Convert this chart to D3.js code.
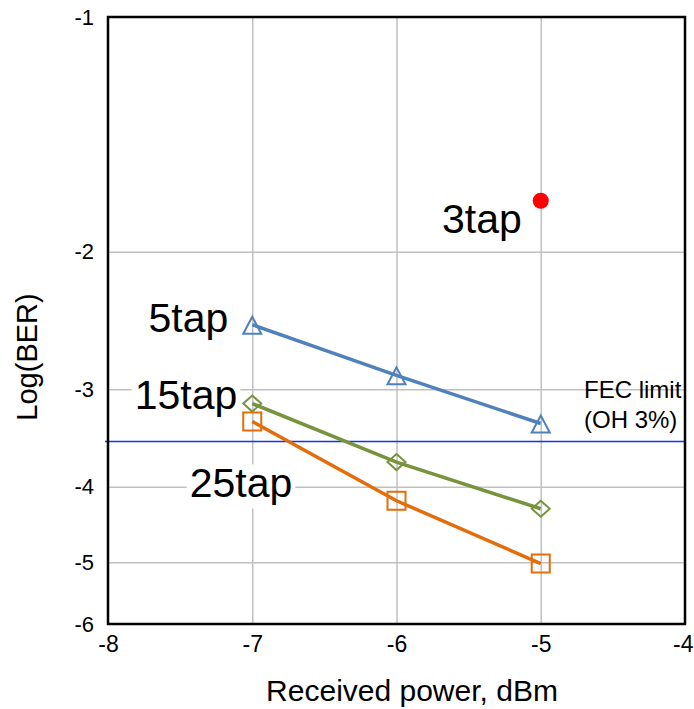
<!DOCTYPE html>
<html lang="en">
<head>
<meta charset="UTF-8">
<title>Log(BER) vs received power</title>
<script src="https://cdn.jsdelivr.net/npm/d3@7"></script>
<style>
  body { margin: 0; background: #fff; }
  text { font-family: Arial, "Liberation Sans", sans-serif; fill: #000; }
</style>
</head>
<body>
<div id="chart"></div>
<script>
  // received power (dBm) and measured Log(BER) per tap count
  var power = [-7, -6, -5];
  var ber5tap = [-2.48, -2.88, -3.32];
  var ber15tap = [-3.13, -3.72, -4.27];
  var ber25tap = [-3.3, -4.17, -5.02];
  var power3tap = [-5];
  var ber3tap = [-1.72];
  var fecLimit = -3.5;
  var xTicks = [-8, -7, -6, -5, -4];
  var yTicks = [-1, -2, -3, -4, -5, -6];

  var margin = { top: 17, right: 9, bottom: 85, left: 108 },
    width = 694 - margin.left - margin.right,
    height = 709 - margin.top - margin.bottom;

  var x = d3.scaleLinear().domain([-8, -4]).range([0, width]);
  // the axis is logarithmic in -Log(BER)
  var y = d3.scaleLog().domain([1, 6]).range([0, height]);
  var yPos = function (v) { return y(-v); };

  var svg = d3.select("#chart")
    .append("svg")
    .attr("width", 694)
    .attr("height", 709)
    .append("g")
    .attr("transform", "translate(" + margin.left + "," + margin.top + ")");

  // gridlines
  var gx = svg.append("g")
    .call(d3.axisBottom(x).tickValues(xTicks.slice(1, -1)).tickSize(height).tickFormat(""));
  var gy = svg.append("g")
    .call(d3.axisRight(y).tickValues(yTicks.slice(1, -1).map(function (v) { return -v; })).tickSize(width).tickFormat(""));
  [gx, gy].forEach(function (g) {
    g.select(".domain").remove();
    g.selectAll("line").attr("stroke", "#c0c0c0").attr("stroke-width", 1.5);
  });

  // tick labels
  var ay = svg.append("g")
    .call(d3.axisLeft(y).tickValues(yTicks.map(function (v) { return -v; }))
      .tickSize(0).tickPadding(14).tickFormat(function (d) { return "-" + d; }));
  var ax = svg.append("g")
    .attr("transform", "translate(0," + height + ")")
    .call(d3.axisBottom(x).tickValues(xTicks).tickSize(0).tickPadding(12)
      .tickFormat(function (d) { return d < 0 ? "-" + (-d) : d; }));
  [ax, ay].forEach(function (g) {
    g.select(".domain").remove();
    g.selectAll("text").attr("fill", "#000").style("font-family", "Arial, 'Liberation Sans', sans-serif");
  });
  ay.selectAll("text").style("font-size", "22px");
  ax.selectAll("text").style("font-size", "23px");
  // keep the last label inside the page
  ax.selectAll("text").filter(function (d) { return d === xTicks[xTicks.length - 1]; })
    .attr("text-anchor", "end").attr("x", 8);

  // FEC limit
  var fecY = yPos(fecLimit);
  svg.append("line")
    .attr("x1", -3).attr("x2", width)
    .attr("y1", fecY).attr("y2", fecY)
    .attr("stroke", "#0a36ee").attr("stroke-width", 1.5);
  svg.append("text")
    .attr("x", 476).attr("y", fecY - 43)
    .style("font-size", "24px")
    .text("FEC limit");
  svg.append("text")
    .attr("x", 476).attr("y", fecY - 13)
    .style("font-size", "24px")
    .text("(OH 3%)");

  var shapes = {
    triangle: "M0,-8L9,9L-9,9Z",
    diamond: "M0,-8L9,0L0,8L-9,0Z",
    square: "M-9,-9L9,-9L9,9L-9,9Z"
  };

  var series = [
    { name: "5tap", values: ber5tap, color: "#4f81bd", shape: "triangle" },
    { name: "15tap", values: ber15tap, color: "#77933c", shape: "diamond" },
    { name: "25tap", values: ber25tap, color: "#e46c0a", shape: "square" }
  ];

  var line = d3.line()
    .x(function (d, i) { return x(power[i]); })
    .y(function (d) { return yPos(d); });

  series.forEach(function (s) {
    svg.append("path")
      .attr("d", line(s.values))
      .attr("fill", "none")
      .attr("stroke", s.color)
      .attr("stroke-width", 3.5);
    svg.selectAll(".m-" + s.name)
      .data(s.values)
      .enter()
      .append("path")
      .attr("class", "m-" + s.name)
      .attr("transform", function (d, i) { return "translate(" + x(power[i]) + "," + yPos(d) + ")"; })
      .attr("d", shapes[s.shape])
      .attr("fill", "none")
      .attr("stroke", s.color)
      .attr("stroke-width", 2);
  });

  svg.selectAll(".p3")
    .data(ber3tap)
    .enter()
    .append("circle")
    .attr("class", "p3")
    .attr("cx", function (d, i) { return x(power3tap[i]); })
    .attr("cy", function (d) { return yPos(d); })
    .attr("r", 8)
    .attr("fill", "#ff0000");

  // series labels, offset in pixels from a point of the series, on a white box
  function addLabel(txt, px, py, dx, dy) {
    var g = svg.append("g");
    var t = g.append("text")
      .attr("x", px + dx).attr("y", py + dy)
      .attr("text-anchor", "end")
      .style("font-size", "41px")
      .text(txt);
    var b = t.node().getBBox();
    g.insert("rect", "text")
      .attr("x", b.x - 3).attr("y", b.y + 4)
      .attr("width", b.width + 6).attr("height", b.height - 2)
      .attr("fill", "#fff");
  }
  addLabel("3tap", x(power3tap[0]), yPos(ber3tap[0]), -19, 32);
  addLabel("5tap", x(power[0]), yPos(ber5tap[0]), -24, 7);
  addLabel("15tap", x(power[0]), yPos(ber15tap[0]), -15, 5);
  addLabel("25tap", x(power[0]), yPos(ber25tap[0]), 40, 76);

  // plot border
  svg.append("rect")
    .attr("width", width).attr("height", height)
    .attr("fill", "none")
    .attr("stroke", "#000")
    .attr("stroke-width", 2.5);

  // axis titles
  svg.append("text")
    .attr("transform", "translate(" + (37 - margin.left) + "," + (357 - margin.top) + ") rotate(-90)")
    .attr("text-anchor", "middle")
    .style("font-size", "29px")
    .text("Log(BER)");
  svg.append("text")
    .attr("x", 412 - margin.left).attr("y", 701 - margin.top)
    .attr("text-anchor", "middle")
    .style("font-size", "30px")
    .text("Received power, dBm");
</script>
</body>
</html>
